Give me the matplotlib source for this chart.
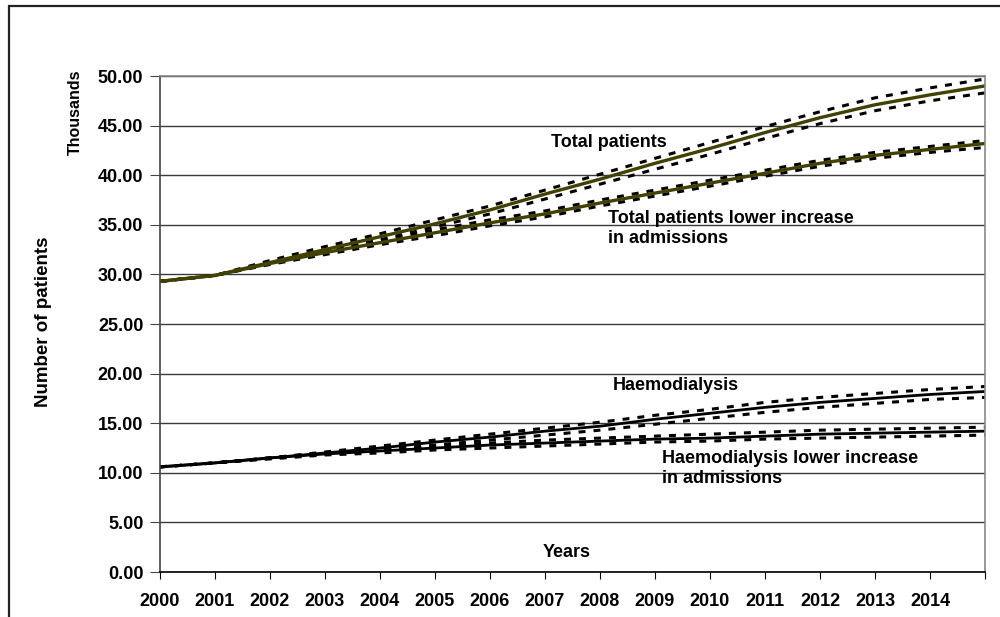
import numpy as np
import matplotlib
matplotlib.use("Agg")
from matplotlib import pyplot as plt
from matplotlib.patches import Rectangle

plt.rcParams['font.family'] = ['Liberation Sans', 'DejaVu Sans']
plt.rcParams['font.weight'] = 'bold'
plt.rcParams['lines.scale_dashes'] = False

# Projected patient numbers (thousands), one value per year
years = np.arange(2000, 2016)

total = [29.3, 29.9, 31.2, 32.5, 33.8, 35.1, 36.5, 38.1, 39.6, 41.2, 42.7, 44.3, 45.8, 47.1, 48.1, 49.0]
total_up = [29.3, 29.9, 31.4, 32.8, 34.1, 35.5, 36.9, 38.5, 40.1, 41.7, 43.3, 44.9, 46.4, 47.8, 48.8, 49.7]
total_dn = [29.3, 29.9, 31.1, 32.3, 33.5, 34.8, 36.1, 37.6, 39.1, 40.6, 42.1, 43.7, 45.2, 46.5, 47.5, 48.3]

total_low = [29.3, 29.9, 31.1, 32.2, 33.2, 34.2, 35.2, 36.1, 37.2, 38.2, 39.2, 40.2, 41.2, 42.0, 42.6, 43.2]
total_low_up = [29.3, 29.9, 31.2, 32.4, 33.4, 34.5, 35.5, 36.4, 37.5, 38.5, 39.5, 40.5, 41.5, 42.3, 42.9, 43.5]
total_low_dn = [29.3, 29.9, 31.0, 32.0, 33.0, 33.9, 34.9, 35.8, 36.9, 37.9, 38.9, 39.9, 40.9, 41.7, 42.3, 42.8]

haemo = [10.6, 11.0, 11.5, 12.0, 12.5, 13.1, 13.6, 14.2, 14.7, 15.4, 16.0, 16.6, 17.1, 17.5, 17.9, 18.2]
haemo_up = [10.6, 11.0, 11.5, 12.1, 12.7, 13.3, 13.9, 14.5, 15.1, 15.8, 16.4, 17.1, 17.6, 18.0, 18.4, 18.7]
haemo_dn = [10.6, 11.0, 11.5, 11.9, 12.3, 12.8, 13.3, 13.8, 14.3, 14.9, 15.5, 16.1, 16.6, 17.0, 17.4, 17.6]

haemo_low = [10.6, 11.0, 11.5, 11.9, 12.2, 12.5, 12.8, 13.0, 13.2, 13.4, 13.5, 13.7, 13.9, 14.0, 14.1, 14.2]
haemo_low_up = [10.6, 11.0, 11.5, 12.0, 12.4, 12.7, 13.0, 13.3, 13.5, 13.7, 13.9, 14.1, 14.3, 14.4, 14.5, 14.6]
haemo_low_dn = [10.6, 11.0, 11.4, 11.8, 12.0, 12.3, 12.5, 12.7, 12.9, 13.1, 13.2, 13.4, 13.5, 13.6, 13.7, 13.8]

xtick_labels = [str(y) for y in range(2000, 2015)] + [""]
yticks = np.arange(0, 51, 5)

fig = plt.figure(figsize=(10, 6.17), dpi=100)
ax = fig.add_axes([0.16, 0.0729, 0.825, 0.8039])

# outer chart frame
fig.patches.append(Rectangle((0.009, -0.2), 1.2, 0.2 + 0.9903, transform=fig.transFigure,
                             fill=False, edgecolor="#222222", linewidth=1.6))

olive = "#434100"
dash = dict(color="black", linewidth=2.2, dashes=(5, 5.8), dash_capstyle="butt")

for up, dn in [(total_up, total_dn), (total_low_up, total_low_dn),
               (haemo_up, haemo_dn), (haemo_low_up, haemo_low_dn)]:
    ax.plot(years, up, **dash)
    ax.plot(years, dn, **dash)

ax.plot(years, total, color=olive, linewidth=2.4)
ax.plot(years, total_low, color=olive, linewidth=2.4)
ax.plot(years, haemo, color="black", linewidth=2.0)
ax.plot(years, haemo_low, color="black", linewidth=2.0)

ax.set_xlim(2000, 2015)
ax.set_ylim(0, 50)
ax.set_xticks(years)
ax.set_xticklabels(xtick_labels)
ax.set_yticks(yticks)
ax.set_yticklabels([f"{v:.2f}" for v in yticks])
ax.tick_params(axis="both", labelsize=13, direction="out")
ax.tick_params(axis="x", length=5, pad=10, color="black")
ax.tick_params(axis="y", length=7, pad=5, color="#444444")

ax.grid(axis="y", color="#3a3a3a", linewidth=1.0)
ax.set_axisbelow(True)
ax.spines["left"].set_color("#444444")
ax.spines["bottom"].set_color("black")
ax.spines["top"].set_color("#888888")
ax.spines["right"].set_color("#888888")
for s in ax.spines.values():
    s.set_linewidth(1.2)

fs = 13
ax.text(2007.11, 43.25, "Total patients", fontsize=fs, va="center", ha="left")
ax.text(2008.15, 34.6, "Total patients lower increase\nin admissions", fontsize=fs,
        va="center", ha="left", linespacing=1.25)
ax.text(2008.24, 18.85, "Haemodialysis", fontsize=fs, va="center", ha="left")
ax.text(2009.13, 10.45, "Haemodialysis lower increase\nin admissions", fontsize=fs,
        va="center", ha="left", linespacing=1.25)
ax.text(2007.4, 2.0, "Years", fontsize=fs, va="center", ha="center")

fig.text(0.044, 1 - 322 / 617, "Number of patients", rotation=90, fontsize=13.5,
         ha="center", va="center")
fig.text(0.075, 1 - 112 / 617, "Thousands", rotation=90, fontsize=11.5,
         ha="center", va="center")

fig.savefig("out.png", dpi=100)
